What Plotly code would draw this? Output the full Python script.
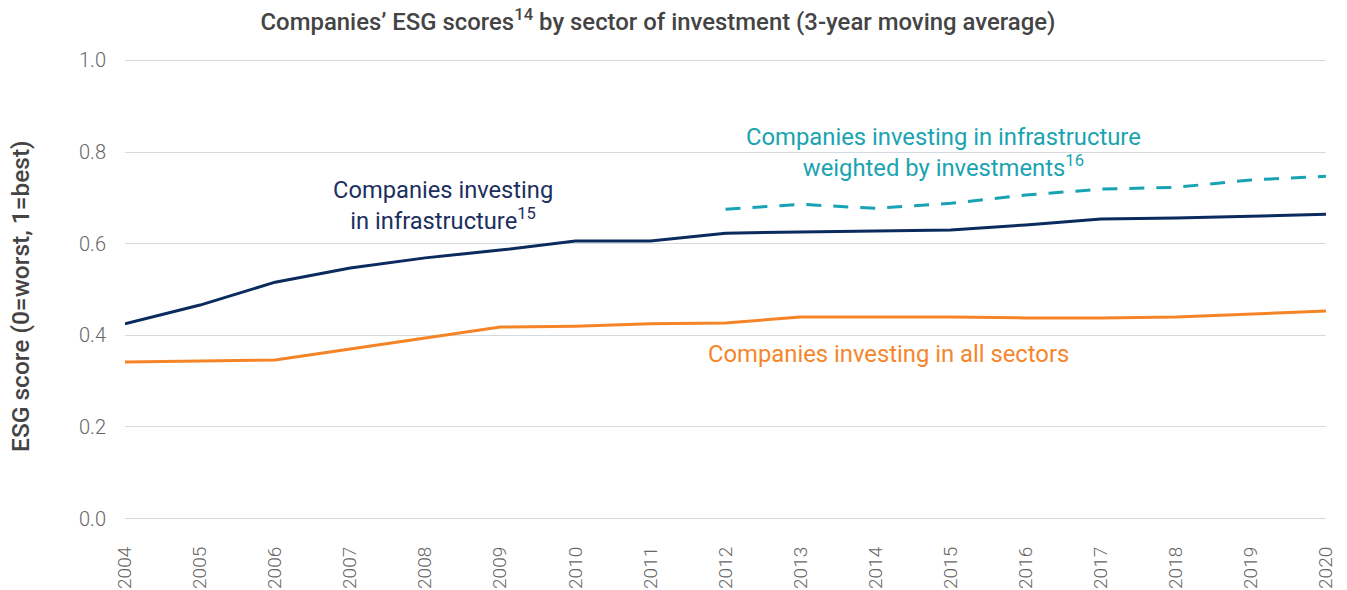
import plotly.graph_objects as go

years = list(range(2004, 2021))
infra = [0.425, 0.466, 0.516, 0.547, 0.569, 0.586, 0.606, 0.606, 0.623, 0.625,
         0.627, 0.630, 0.641, 0.654, 0.656, 0.660, 0.664]
all_sectors = [0.342, 0.344, 0.346, 0.370, 0.394, 0.418, 0.420, 0.425, 0.427, 0.440,
               0.440, 0.440, 0.438, 0.438, 0.440, 0.447, 0.453]
weighted_years = list(range(2012, 2021))
weighted = [0.675, 0.686, 0.677, 0.688, 0.706, 0.719, 0.723, 0.739, 0.747]
y_ticks = [0.0, 0.2, 0.4, 0.6, 0.8, 1.0]

NAVY = "#0b2a5e"
ORANGE = "#f58426"
TEAL = "#17a3b3"

fig = go.Figure()
fig.add_trace(go.Scatter(x=years, y=all_sectors, mode="lines",
                         line=dict(color=ORANGE, width=3), showlegend=False))
fig.add_trace(go.Scatter(x=years, y=infra, mode="lines",
                         line=dict(color=NAVY, width=3), showlegend=False))
fig.add_trace(go.Scatter(x=weighted_years, y=weighted, mode="lines",
                         line=dict(color=TEAL, width=3, dash="15px,12px"), showlegend=False))

fig.add_annotation(x=2008.24, y=0.684, xref="x", yref="y",
                   text="Companies investing<br>in infrastructure<sup>15</sup>",
                   showarrow=False, font=dict(family="Roboto", size=23.7, color="#1b2f60"),
                   align="center")
fig.add_annotation(x=2014.91, y=0.800, xref="x", yref="y",
                   text="Companies investing in infrastructure<br>weighted by investments<sup>16</sup>",
                   showarrow=False, font=dict(family="Roboto", size=23.8, color="#1aa3b0"),
                   align="center")
fig.add_annotation(x=2014.165, y=0.359, xref="x", yref="y",
                   text="Companies investing in all sectors",
                   showarrow=False, font=dict(family="Roboto", size=23.8, color="#f5862b"),
                   align="center")
# y-axis title
fig.add_annotation(x=-104 / 1201, y=0.486, xref="paper", yref="paper",
                   text="ESG score (0=worst, 1=best)", textangle=-90,
                   showarrow=False, xanchor="center", yanchor="middle",
                   font=dict(family="Roboto", size=24.5, color="#444444", weight=500))

fig.update_layout(
    width=1339, height=582,
    margin=dict(l=117, r=21, t=51, b=70),
    paper_bgcolor="white", plot_bgcolor="white",
    font=dict(family="Roboto"),
    title=dict(text="Companies’ ESG scores<sup>14</sup> by sector of investment (3-year moving average)",
               x=0.4854, xanchor="center", xref="container",
               y=0.976, yanchor="middle", yref="container",
               font=dict(family="Roboto", size=23.9, color="#444444", weight=500)),
    xaxis=dict(range=[2004, 2020], tickmode="array", tickvals=years,
               ticktext=[str(y) for y in years], tickangle=-90,
               showgrid=False, zeroline=False, showline=False, automargin=False,
               tickfont=dict(family="Roboto", size=19, color="#666666", weight=300),
               ticks="", ticklabelstandoff=22),
    yaxis=dict(range=[-0.003, 1.003], tickmode="array", tickvals=y_ticks,
               ticktext=[f"{v:.1f}" for v in y_ticks], automargin=False,
               showgrid=True, gridcolor="#d3dbe0", gridwidth=1,
               zeroline=False, showline=False, ticks="",
               tickfont=dict(family="Roboto", size=20, color="#666666", weight=300),
               ticklabelstandoff=18),
)

fig.write_html("out.html")
